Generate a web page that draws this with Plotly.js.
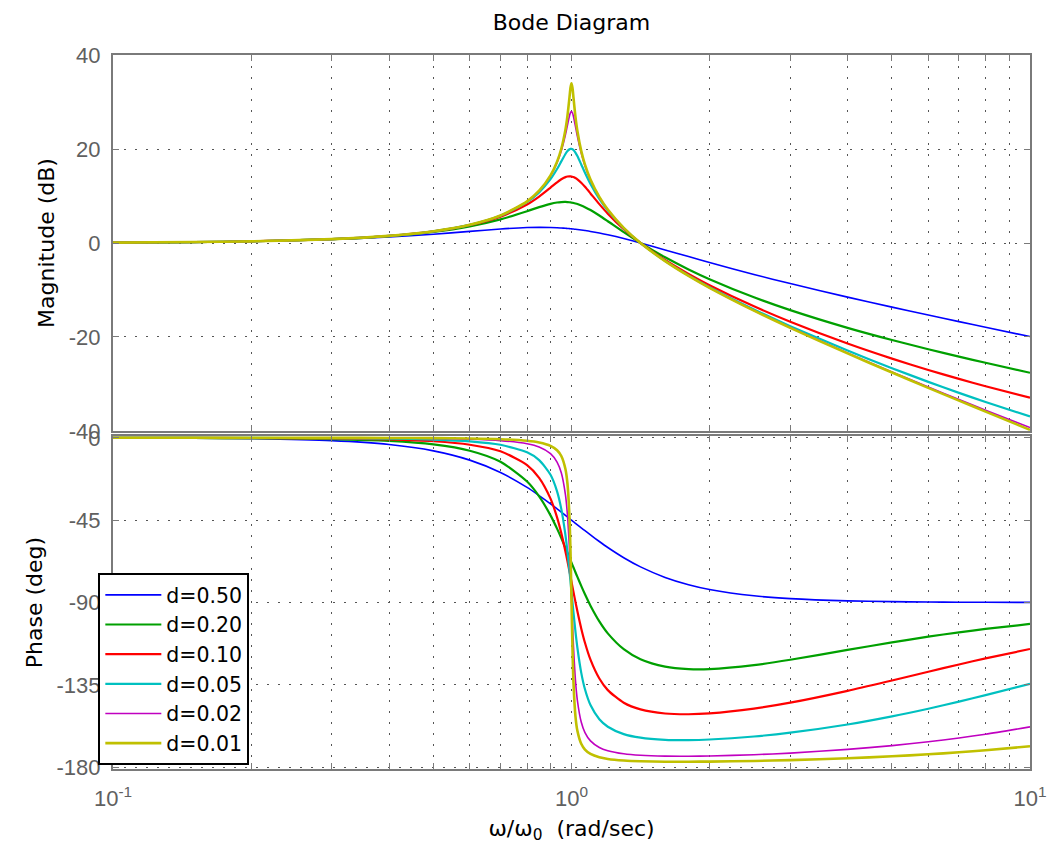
<!DOCTYPE html>
<html>
<head>
<meta charset="utf-8">
<script src="https://cdn.plot.ly/plotly-3.0.1.min.js"></script>
<style>html,body{margin:0;padding:0;background:#fff;}#chart{width:1056px;height:856px;}</style>
</head>
<body>
<div id="chart"></div>
<script>
// Normalised frequency (rad/sec)
const omega = [0.1,0.15,0.2,0.3,0.4,0.5,0.6,0.7,0.8,0.85,0.9,0.93,0.95,0.97,0.98,0.99,0.995,1,1.005,1.01,1.02,1.03,1.05,1.07,1.1,1.15,1.2,1.3,1.414,1.6,1.8,2,2.5,3,4,5,6,7,8,10];

const seriesNames = ["d=0.50","d=0.20","d=0.10","d=0.05","d=0.02","d=0.01"];

// Magnitude (dB)
const mag_d050 = [0.086,0.193,0.340,0.745,1.271,1.871,2.473,2.981,3.286,3.333,3.303,3.246,3.193,3.128,3.092,3.052,3.032,3.010,2.988,2.965,2.918,2.868,2.762,2.648,2.461,2.117,1.742,0.941,0,-1.470,-2.895,-4.150,-6.688,-8.633,-11.516,-13.639,-15.325,-16.726,-17.927,-19.913];
const mag_d020 = [0.087,0.197,0.352,0.806,1.469,2.371,3.548,5.032,6.768,7.628,8.336,8.614,8.713,8.733,8.711,8.668,8.638,8.603,8.563,8.518,8.413,8.289,7.989,7.630,7.008,5.842,4.627,2.309,0,-3.047,-5.618,-7.693,-11.547,-14.284,-18.056,-20.645,-22.602,-24.175,-25.490,-27.615];
const mag_d010 = [0.087,0.197,0.354,0.816,1.503,2.465,3.789,5.617,8.201,9.874,11.782,12.918,13.564,14.019,14.145,14.190,14.181,14.150,14.098,14.024,13.817,13.540,12.815,11.947,10.544,8.268,6.243,2.930,0,-3.618,-6.586,-8.974,-13.473,-16.751,-21.386,-24.601,-27.013,-28.916,-30.475,-32.925];
const mag_d005 = [0.087,0.198,0.355,0.819,1.511,2.490,3.854,5.789,8.692,10.777,13.581,15.740,17.360,18.934,19.561,19.958,20.043,20.043,19.958,19.789,19.240,18.487,16.717,14.938,12.555,9.366,6.881,3.144,0,-3.798,-6.894,-9.391,-14.150,-17.694,-22.880,-26.637,-29.547,-31.894,-33.839,-36.903];
const mag_d002 = [0.087,0.198,0.355,0.820,1.514,2.497,3.873,5.839,8.844,11.075,14.278,17.076,19.612,23.018,25.086,27.075,27.745,27.966,27.660,26.919,24.826,22.679,19.119,16.423,13.377,9.751,7.090,3.210,0,-3.852,-6.987,-9.518,-14.362,-18.000,-23.413,-27.434,-30.638,-33.297,-35.563,-39.268];
const mag_d001 = [0.087,0.198,0.355,0.820,1.514,2.499,3.877,5.846,8.867,11.120,14.387,17.307,20.060,24.125,27.097,31.036,33.050,33.981,32.970,30.906,26.889,23.839,19.609,16.687,13.510,9.810,7.121,3.220,0,-3.860,-7.000,-9.536,-14.393,-18.046,-23.494,-27.561,-30.819,-33.540,-35.877,-39.742];

// Phase (deg)
const ph_d050 = [-0.06,-0.19,-0.46,-1.55,-3.66,-7.12,-12.19,-18.94,-27.11,-31.56,-36.09,-38.81,-40.61,-42.38,-43.27,-44.14,-44.57,-45.00,-45.43,-45.86,-46.70,-47.53,-49.18,-50.77,-53.08,-56.67,-59.95,-65.53,-70.53,-76.28,-80.27,-82.87,-86.34,-87.87,-89.11,-89.54,-89.73,-89.83,-89.89,-89.94];
const ph_d020 = [-0.02,-0.08,-0.19,-0.67,-1.69,-3.62,-7.06,-13.12,-23.89,-31.99,-42.38,-49.63,-54.80,-60.14,-62.83,-65.52,-66.86,-68.20,-69.53,-70.85,-73.46,-76.02,-80.93,-85.53,-91.76,-100.33,-106.87,-115.52,-121.00,-125.07,-126.43,-126.41,-124.22,-121.28,-115.91,-111.81,-108.70,-106.31,-104.44,-101.73];
const ph_d010 = [-0.01,-0.04,-0.10,-0.34,-0.87,-1.88,-3.78,-7.38,-14.87,-21.84,-33.25,-43.46,-52.08,-62.08,-67.49,-73.06,-75.88,-78.69,-81.49,-84.26,-89.67,-94.83,-104.16,-112.02,-121.26,-131.55,-137.89,-144.78,-148.42,-150.67,-151.07,-150.61,-147.99,-144.75,-138.29,-132.61,-127.85,-123.87,-120.55,-115.41];
const ph_d005 = [0,-0.02,-0.05,-0.17,-0.44,-0.95,-1.92,-3.81,-7.95,-12.17,-20.21,-29.23,-38.83,-53.10,-62.40,-72.98,-78.60,-84.29,-89.96,-95.49,-105.79,-114.72,-128.32,-137.45,-146.07,-153.81,-157.90,-161.92,-163.90,-165.05,-165.21,-164.88,-163.23,-161.15,-156.67,-152.24,-148.06,-144.17,-140.61,-134.42];
const ph_d002 = [0,-0.01,-0.02,-0.07,-0.17,-0.38,-0.77,-1.54,-3.25,-5.04,-8.67,-13.26,-19.11,-31.07,-42.47,-61.05,-73.65,-87.71,-101.70,-114.14,-132.38,-143.56,-155.31,-161.09,-165.65,-169.25,-171.02,-172.71,-173.52,-173.99,-174.04,-173.90,-173.20,-172.30,-170.30,-168.21,-166.11,-164.03,-161.97,-157.97];
const ph_d001 = [0,0,-0.01,-0.03,-0.09,-0.19,-0.39,-0.77,-1.63,-2.53,-4.38,-6.77,-9.94,-17.06,-25.21,-43.73,-62.24,-88.85,-115.36,-133.70,-152.04,-160.13,-167.22,-170.37,-172.76,-174.60,-175.51,-176.35,-176.76,-177.00,-177.02,-176.95,-176.59,-176.14,-175.12,-174.05,-172.96,-171.86,-170.76,-168.57];

// Axis ticks
const xTickVals = [0.1,0.2,0.3,0.4,0.5,0.6,0.7,0.8,0.9,1,2,3,4,5,6,7,8,9,10];
const xTickText = ["10<sup>-1</sup>","","","","","","","","","10<sup>0</sup>","","","","","","","","","10<sup>1</sup>"];
const magTicks = [-40,-20,0,20,40];
const magTickText = ["-40","-20","0","20","40"];
const phaseTicks = [-180,-135,-90,-45,0];
const phaseTickText = ["-180","-135","-90","-45","0"];

const colors = ["#0000ff","#00a000","#ff0000","#00c0c0","#c000c0","#c0c000"];
const widths = [1.6,2.2,2.2,2.2,1.6,2.6];
const mags = [mag_d050,mag_d020,mag_d010,mag_d005,mag_d002,mag_d001];
const phases = [ph_d050,ph_d020,ph_d010,ph_d005,ph_d002,ph_d001];

const traces = [];
for (let i = 0; i < seriesNames.length; i++) {
  traces.push({x: omega, y: mags[i], type: "scatter", mode: "lines", name: seriesNames[i],
    xaxis: "x", yaxis: "y", showlegend: false, hoverinfo: "skip",
    line: {color: colors[i], width: widths[i], shape: "spline", smoothing: 0.7}});
}
for (let i = 0; i < seriesNames.length; i++) {
  traces.push({x: omega, y: phases[i], type: "scatter", mode: "lines", name: seriesNames[i],
    xaxis: "x2", yaxis: "y2", showlegend: true, hoverinfo: "skip",
    line: {color: colors[i], width: widths[i], shape: "spline", smoothing: 0.7}});
}

const FONT = "Liberation Sans, Arial, sans-serif";
const TFONT = "DejaVu Sans, Liberation Sans, sans-serif";
const frame = {showline: true, linecolor: "#7a7a7a", linewidth: 2, mirror: "ticks",
  ticks: "inside", ticklen: 6, tickwidth: 1, tickcolor: "#7a7a7a",
  showgrid: true, gridcolor: "#555555", griddash: "2px,9px", gridwidth: 1, zeroline: false,
  tickfont: {family: FONT, size: 22, color: "#606060"}};

const layout = {
  width: 1056, height: 856,
  margin: {l: 113, r: 26, t: 55, b: 87},
  paper_bgcolor: "#ffffff", plot_bgcolor: "#ffffff",
  font: {family: FONT, color: "#000"},
  title: {text: "Bode Diagram", x: 0.5, xref: "paper", y: 0.974, yref: "container", yanchor: "middle",
    font: {family: TFONT, size: 22, color: "#000"}},
  xaxis: Object.assign({}, frame, {type: "log", range: [-1, 1], anchor: "y", matches: "x2",
    tickmode: "array", tickvals: xTickVals, ticktext: xTickText, showticklabels: false}),
  xaxis2: Object.assign({}, frame, {type: "log", range: [-1, 1], anchor: "y2",
    tickmode: "array", tickvals: xTickVals, ticktext: xTickText, ticklabelstandoff: 9,
    title: {text: "ω/ω<sub>0</sub>  (rad/sec)", font: {family: TFONT, size: 22, color: "#000"}, standoff: 10}}),
  yaxis: Object.assign({}, frame, {domain: [0.4734, 1], range: [-40, 40], anchor: "x",
    tickmode: "array", tickvals: magTicks, ticktext: magTickText, ticklabelstandoff: 6,
    title: {text: "Magnitude (dB)", font: {family: TFONT, size: 22, color: "#000"}, standoff: 8}}),
  yaxis2: Object.assign({}, frame, {domain: [0, 0.4664], range: [-181, 1], anchor: "x2",
    tickmode: "array", tickvals: phaseTicks, ticktext: phaseTickText, ticklabelstandoff: 6,
    title: {text: "Phase (deg)", font: {family: TFONT, size: 22, color: "#000"}, standoff: 8}}),
  legend: {x: -0.016, xanchor: "left", y: 0.2745, yanchor: "top", xref: "paper", yref: "paper",
    bgcolor: "#ffffff", bordercolor: "#000000", borderwidth: 2,
    font: {family: TFONT, size: 20.5, color: "#000"}, itemwidth: 56, traceorder: "normal"},
  showlegend: true
};

Plotly.newPlot("chart", traces, layout, {staticPlot: true, displayModeBar: false});
</script>
</body>
</html>
